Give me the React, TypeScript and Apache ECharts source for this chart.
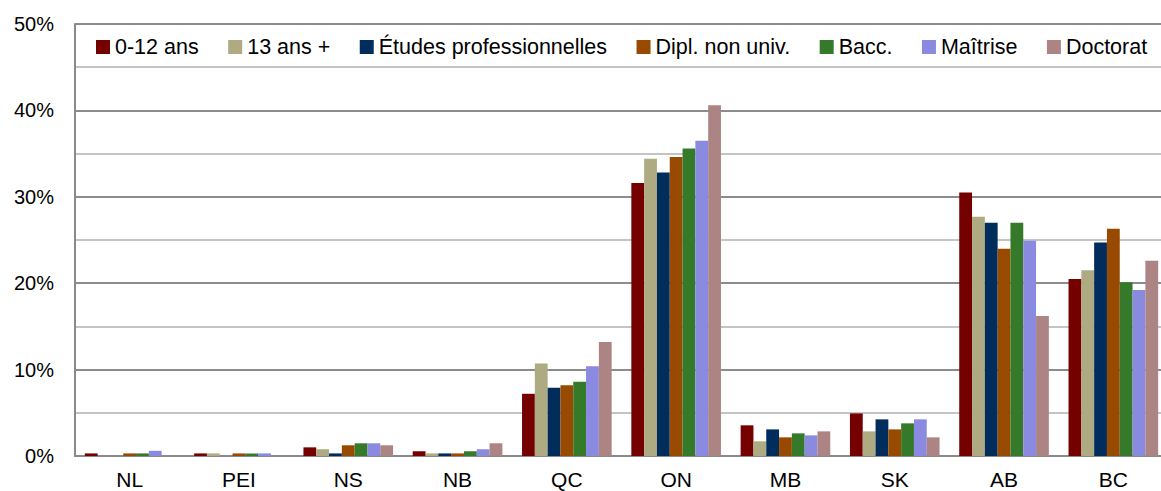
import React, { useEffect, useRef } from "react";
import * as echarts from "echarts";

const categories = ["NL", "PEI", "NS", "NB", "QC", "ON", "MB", "SK", "AB", "BC"];
const seriesNames = ["0-12 ans", "13 ans +", "Études professionnelles", "Dipl. non univ.", "Bacc.", "Maîtrise", "Doctorat"];
const colors = ["#740000", "#aeaa82", "#002d5c", "#974a00", "#357a2b", "#8a8ae0", "#ac8484"];

const s012 = [0.3, 0.3, 1.0, 0.55, 7.2, 31.6, 3.55, 4.93, 30.5, 20.5];
const s13 = [0.0, 0.3, 0.78, 0.3, 10.7, 34.4, 1.7, 2.85, 27.7, 21.5];
const sEtudes = [0.0, 0.0, 0.3, 0.3, 7.9, 32.8, 3.08, 4.24, 27.0, 24.7];
const sDipl = [0.3, 0.3, 1.24, 0.3, 8.18, 34.6, 2.16, 3.08, 24.0, 26.3];
const sBacc = [0.3, 0.3, 1.47, 0.55, 8.6, 35.6, 2.62, 3.78, 27.0, 20.1];
const sMaitrise = [0.6, 0.3, 1.47, 0.78, 10.4, 36.5, 2.39, 4.24, 24.9, 19.2];
const sDoctorat = [0.0, 0.0, 1.24, 1.47, 13.2, 40.6, 2.85, 2.16, 16.2, 22.6];

const seriesData = [s012, s13, sEtudes, sDipl, sBacc, sMaitrise, sDoctorat];
const yTicks = { min: 0, max: 50, interval: 10 };

const FONT = "'Liberation Sans', Arial, sans-serif";

export default function App() {
  const ref = useRef<HTMLDivElement>(null);
  useEffect(() => {
    if (!ref.current) return;
    const chart = echarts.init(ref.current, null, { renderer: "svg" });
    chart.setOption({
      animation: false,
      backgroundColor: "#ffffff",
      color: colors,
      textStyle: { fontFamily: FONT },
      legend: {
        left: 91,
        top: 31,
        itemWidth: 14,
        itemHeight: 14,
        itemGap: 29.5,
        icon: "rect",
        textStyle: { fontSize: 21.5, color: "#000", fontFamily: FONT },
        data: seriesNames,
      },
      grid: { left: 75, top: 24, bottom: 35, right: 0, containLabel: false },
      xAxis: {
        type: "category",
        data: categories,
        axisLine: { lineStyle: { color: "#8a8a8a", width: 2 } },
        axisTick: { show: false },
        axisLabel: { fontSize: 21, color: "#000", margin: 13, fontFamily: FONT },
      },
      yAxis: {
        type: "value",
        min: yTicks.min,
        max: yTicks.max,
        interval: yTicks.interval,
        axisLine: { show: true, lineStyle: { color: "#8a8a8a", width: 2 } },
        axisTick: { show: false },
        axisLabel: { fontSize: 20, color: "#000", margin: 21, formatter: "{value}%", fontFamily: FONT },
        splitLine: { show: true, lineStyle: { color: "#8c8c8c", width: 2 } },
        minorTick: { show: false, splitNumber: 2 },
        minorSplitLine: { show: true, lineStyle: { color: "#c4c4c4", width: 2 } },
      },
      series: seriesNames.map((name, i) => ({
        name,
        type: "bar",
        data: seriesData[i],
        barGap: "0%",
        barCategoryGap: "18%",
        itemStyle: { color: colors[i] },
      })),
    });
    return () => chart.dispose();
  }, []);
  return (
    <div
      ref={ref}
      style={{ position: "fixed", left: 0, top: 0, width: 1168, height: 491 }}
    />
  );
}
